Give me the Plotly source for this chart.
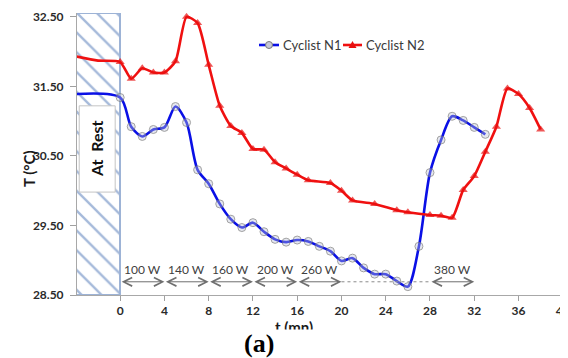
import plotly.graph_objects as go

# ---- data ----
n1_t = [-4, 0, 1, 2, 3, 4, 5, 6, 7, 8, 9, 10, 11, 12, 13, 14, 15, 16, 17, 18, 19, 20,
        21, 22, 23, 24, 25, 26, 27, 28, 29, 30, 31, 32, 33]
n1_T = [31.39, 31.34, 30.92, 30.78, 30.88, 30.91, 31.21, 30.98, 30.30, 30.10, 29.81, 29.59,
        29.47, 29.54, 29.41, 29.30, 29.26, 29.29, 29.27, 29.20, 29.13, 28.99, 29.03, 28.89,
        28.80, 28.80, 28.70, 28.62, 29.20, 30.26, 30.73, 31.07, 31.01, 30.91, 30.81]

n2_t = [-4, -2, 0, 1, 2, 3, 4, 5, 6, 7, 8, 9, 10, 11, 12, 13, 14, 15, 16, 17, 19, 20, 21, 23,
        25, 26, 28, 29, 30, 31, 32, 33, 34, 35, 36, 37, 38]
n2_T = [31.93, 31.87, 31.85, 31.61, 31.76, 31.70, 31.70, 31.86, 32.50, 32.41, 31.81, 31.22,
        30.93, 30.83, 30.60, 30.59, 30.41, 30.32, 30.23, 30.15, 30.11, 30.00, 29.86, 29.81,
        29.72, 29.69, 29.65, 29.64, 29.61, 30.01, 30.21, 30.56, 30.92, 31.47, 31.39, 31.19,
        30.88]

series_names = ["Cyclist N1", "Cyclist N2"]
power_labels = ["100 W", "140 W", "160 W", "200 W", "260 W", "380 W"]
power_start = [0, 4, 8, 12, 16, 28]
power_end = [4, 8, 12, 16, 20, 32]

x_ticks = [0, 4, 8, 12, 16, 20, 24, 28, 32, 36, 40]
rest_start, rest_end = -4, 0

BLUE, RED = "#0a10e6", "#f01010"
CIRC_FILL, CIRC_LINE = "rgba(190,195,215,0.55)", "#7a7a7a"

# ---- figure geometry (page body adds an 8px offset) ----
OFF = 8
W, H = 568 - OFF, 358 - OFF
PL, PR, PT, PB = 77 - OFF, 563 - OFF, 13 - OFF, 295 - OFF   # plot area in figure px
ML, MR, MT, MB = PL, W - PR, PT, H - PB
XR = [-3.9, 40.02]
YR = [28.5, 32.555]


def px_x(p):   # p: x pixel in reference image
    return (p - OFF - PL) / (PR - PL)


def px_y(p):   # p: y pixel in reference image
    return (PB - (p - OFF)) / (PB - PT)


fig = go.Figure()

# hatched "at rest" band
fig.add_trace(go.Bar(
    x=[(rest_start + rest_end) / 2], y=[32.548 - 28.5], base=[28.5],
    width=[rest_end - rest_start],
    marker=dict(color="white",
                line=dict(color="#9db3d6", width=2),
                pattern=dict(shape="\\", fgcolor="#4b74b5", bgcolor="white",
                             size=14, solidity=0.17)),
    showlegend=False, hoverinfo="skip"))

# no marker on the at-rest start point
n1_sizes = [0] + [8] * (len(n1_t) - 1)
n2_sizes = [0, 0] + [8] * (len(n2_t) - 2)

fig.add_trace(go.Scatter(
    x=n1_t, y=n1_T, name=series_names[0], mode="lines+markers", showlegend=False,
    line=dict(color=BLUE, width=2.6, shape="spline", smoothing=0.8),
    marker=dict(symbol="circle", size=n1_sizes, color=CIRC_FILL,
                line=dict(color=CIRC_LINE, width=1))))

fig.add_trace(go.Scatter(
    x=n2_t, y=n2_T, name=series_names[1], mode="lines+markers", showlegend=False,
    line=dict(color=RED, width=2.6, shape="spline", smoothing=0.6),
    marker=dict(symbol="triangle-up", size=n2_sizes, color="#e81010",
                line=dict(width=0))))

shapes = []
annotations = []

# white box with "At Rest"
shapes.append(dict(type="rect", xref="x", yref="y", x0=-3.70, x1=-0.45, y0=29.98, y1=31.22,
                   fillcolor="white", line=dict(color="#c4c4c4", width=1), layer="above"))
annotations.append(dict(x=-2.08, y=30.60, xref="x", yref="y", text="At  Rest", textangle=-90,
                        showarrow=False, font=dict(family="Lato", size=16, color="#111",
                                                   weight="bold")))

# power arrows
arrow_y = 28.69
label_y = 28.86
for lab, s, e in zip(power_labels, power_start, power_end):
    annotations.append(dict(x=e, y=arrow_y, ax=s, ay=arrow_y, xref="x", yref="y",
                            axref="x", ayref="y", text="", showarrow=True,
                            arrowhead=5, startarrowhead=5, arrowside="end+start",
                            arrowsize=1.7, startarrowsize=1.7, arrowwidth=1,
                            arrowcolor="#6f6f6f", standoff=0, startstandoff=0))
    annotations.append(dict(x=(s + e) / 2, y=label_y, xref="x", yref="y", text=lab,
                            showarrow=False, font=dict(family="Lato", size=12, color="#404040")))
shapes.append(dict(type="line", xref="x", yref="y", x0=power_end[4], x1=power_start[5],
                   y0=arrow_y, y1=arrow_y, line=dict(color="#8a8a8a", width=1, dash="3px,3px")))

# legend (drawn manually for short symbol lines)
LEG_Y = px_y(45)
leg_font = dict(family="Lato", size=13, color="#3a3a3a")
for (l0, l1, tx, color, name) in [(259, 279, 281, BLUE, series_names[0]),
                                  (343, 362, 364, RED, series_names[1])]:
    shapes.append(dict(type="line", xref="paper", yref="paper", x0=px_x(l0), x1=px_x(l1),
                       y0=LEG_Y, y1=LEG_Y, line=dict(color=color, width=2.6)))
    annotations.append(dict(x=px_x(tx), y=LEG_Y, xref="paper", yref="paper", text=name,
                            xanchor="left", yanchor="middle", showarrow=False, font=leg_font))
shapes.append(dict(type="circle", xref="paper", yref="paper", xsizemode="pixel",
                   ysizemode="pixel", xanchor=px_x(269), yanchor=LEG_Y,
                   x0=-3.5, x1=3.5, y0=-3.5, y1=3.5, fillcolor="#c6c8d6",
                   line=dict(color=CIRC_LINE, width=1)))
shapes.append(dict(type="path", xref="paper", yref="paper", xsizemode="pixel",
                   ysizemode="pixel", xanchor=px_x(352.5), yanchor=LEG_Y,
                   path="M-4,-3L4,-3L0,4Z", fillcolor="#e81010", line=dict(width=0)))

# axis titles
annotations.append(dict(x=px_x(18), y=px_y(169), xref="paper", yref="paper", text="T (°C)",
                        textangle=-90, showarrow=False,
                        font=dict(family="Lato", size=15, color="#1a1a1a", weight="bold")))
annotations.append(dict(x=px_x(294), y=px_y(327), xref="paper", yref="paper", text="t (mn)",
                        showarrow=False, yanchor="middle",
                        font=dict(family="Lato", size=15, color="#1a1a1a", weight="bold")))
# cover lower part of x title (cropped in the original)
annotations.append(dict(x=px_x(294), y=px_y(339), xref="paper", yref="paper", text=" ",
                        showarrow=False, bgcolor="white", width=120, height=16,
                        yanchor="middle"))
annotations.append(dict(x=px_x(259), y=px_y(343), xref="paper", yref="paper", text="(a)",
                        showarrow=False, yanchor="middle",
                        font=dict(family="Liberation Serif", size=26, color="#000",
                                  weight="bold")))

fig.update_layout(
    width=W, height=H,
    margin=dict(l=ML, r=MR, t=MT, b=MB, pad=0, autoexpand=False),
    paper_bgcolor="white", plot_bgcolor="white",
    shapes=shapes, annotations=annotations,
    showlegend=False,
    xaxis=dict(range=XR, tickvals=x_ticks, ticks="outside", ticklen=5, tickcolor="#a0a0a0",
               showline=True, linecolor="#a8a8a8", linewidth=1, showgrid=False, zeroline=False,
               ticklabeloverflow="allow",
               tickfont=dict(family="Lato", size=12, color="#2a2a2a", weight="bold")),
    yaxis=dict(range=YR, dtick=1, tick0=28.5, tickformat=".2f", ticks="outside", ticklen=6,
               tickcolor="#a0a0a0", showline=True, linecolor="#a8a8a8", linewidth=1,
               showgrid=False, zeroline=False, ticklabelstandoff=4,
               tickfont=dict(family="Lato", size=12, color="#2a2a2a", weight="bold")),
    bargap=0,
)

fig.write_html("out.html")
